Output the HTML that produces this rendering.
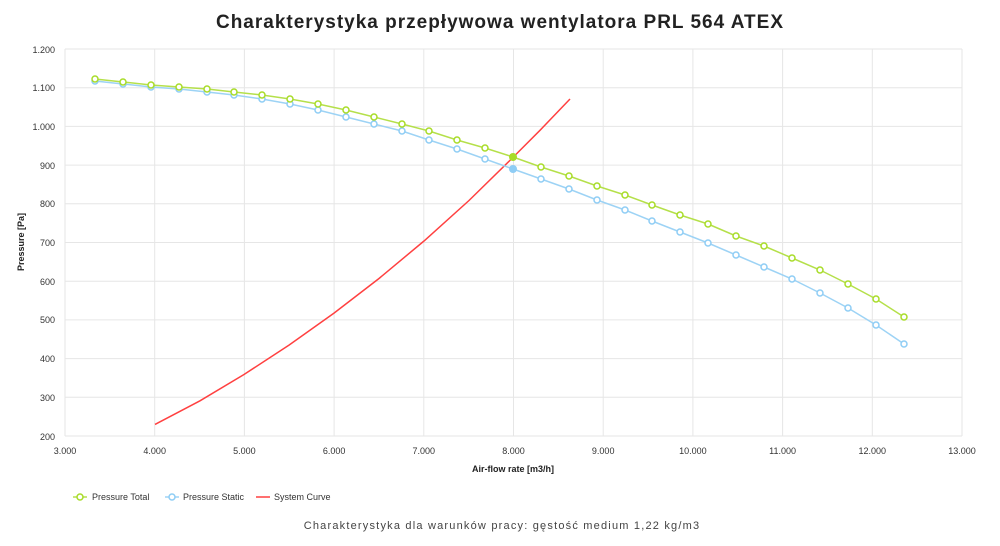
<!DOCTYPE html>
<html><head><meta charset="utf-8"><style>
body{margin:0;background:#fff;width:1000px;height:541px;overflow:hidden;font-family:"Liberation Sans",sans-serif}
</style></head><body>
<svg width="1000" height="541" xmlns="http://www.w3.org/2000/svg" font-family="Liberation Sans, sans-serif">
<text x="500" y="28" text-anchor="middle" font-size="19" font-weight="bold" letter-spacing="1" fill="#222">Charakterystyka przepływowa wentylatora PRL 564 ATEX</text>
<g stroke="#e6e6e6" stroke-width="1">
<line x1="65" y1="49" x2="962" y2="49"/><line x1="65" y1="87.7" x2="962" y2="87.7"/><line x1="65" y1="126.4" x2="962" y2="126.4"/><line x1="65" y1="165.1" x2="962" y2="165.1"/><line x1="65" y1="203.8" x2="962" y2="203.8"/><line x1="65" y1="242.5" x2="962" y2="242.5"/><line x1="65" y1="281.2" x2="962" y2="281.2"/><line x1="65" y1="319.9" x2="962" y2="319.9"/><line x1="65" y1="358.6" x2="962" y2="358.6"/><line x1="65" y1="397.3" x2="962" y2="397.3"/><line x1="65" y1="436" x2="962" y2="436"/>
<line x1="65" y1="49" x2="65" y2="436"/><line x1="154.7" y1="49" x2="154.7" y2="436"/><line x1="244.4" y1="49" x2="244.4" y2="436"/><line x1="334.1" y1="49" x2="334.1" y2="436"/><line x1="423.8" y1="49" x2="423.8" y2="436"/><line x1="513.5" y1="49" x2="513.5" y2="436"/><line x1="603.2" y1="49" x2="603.2" y2="436"/><line x1="692.9" y1="49" x2="692.9" y2="436"/><line x1="782.6" y1="49" x2="782.6" y2="436"/><line x1="872.3" y1="49" x2="872.3" y2="436"/><line x1="962" y1="49" x2="962" y2="436"/>
</g>
<g font-size="9" fill="#333" text-anchor="end">
<text x="55" y="53">1.200</text><text x="55" y="91">1.100</text><text x="55" y="130">1.000</text><text x="55" y="169">900</text><text x="55" y="207">800</text><text x="55" y="246">700</text><text x="55" y="285">600</text><text x="55" y="323">500</text><text x="55" y="362">400</text><text x="55" y="401">300</text><text x="55" y="440">200</text>
</g>
<g font-size="9" fill="#333" text-anchor="middle">
<text x="65" y="454">3.000</text><text x="154.7" y="454">4.000</text><text x="244.4" y="454">5.000</text><text x="334.1" y="454">6.000</text><text x="423.8" y="454">7.000</text><text x="513.5" y="454">8.000</text><text x="603.2" y="454">9.000</text><text x="692.9" y="454">10.000</text><text x="782.6" y="454">11.000</text><text x="872.3" y="454">12.000</text><text x="962" y="454">13.000</text>
</g>
<text x="513" y="472" text-anchor="middle" font-size="9" font-weight="bold" fill="#222">Air-flow rate [m3/h]</text>
<text transform="translate(24,242) rotate(-90)" text-anchor="middle" font-size="9" font-weight="bold" fill="#222">Pressure [Pa]</text>
<polyline fill="none" stroke="#ff4040" stroke-width="1.5" points="155,424.4 200,400.8 244,374.5 289,345.1 334,313.1 379,278.5 424,241 469,200.5 513,157.4 540,130.3 570,99"/>
<g fill="none" stroke="#9dd3f5" stroke-width="1.5">
<polyline points="95,81 123,84 151,87 179,89 207,92 234,95 262,99 290,104 318,110 346,117 374,124 402,131 429,140 457,149 485,159 513,169 541,179 569,189 597,200 625,210 652,221 680,232 708,243 736,255 764,267 792,279 820,293 848,308 876,325 904,344"/>
</g>
<g fill="#fff" stroke="#8fcdf5" stroke-width="1.5" id="s">
<circle cx="95" cy="81" r="3"/><circle cx="123" cy="84" r="3"/><circle cx="151" cy="87" r="3"/><circle cx="179" cy="89" r="3"/><circle cx="207" cy="92" r="3"/><circle cx="234" cy="95" r="3"/><circle cx="262" cy="99" r="3"/><circle cx="290" cy="104" r="3"/><circle cx="318" cy="110" r="3"/><circle cx="346" cy="117" r="3"/><circle cx="374" cy="124" r="3"/><circle cx="402" cy="131" r="3"/><circle cx="429" cy="140" r="3"/><circle cx="457" cy="149" r="3"/><circle cx="485" cy="159" r="3"/><circle cx="541" cy="179" r="3"/><circle cx="569" cy="189" r="3"/><circle cx="597" cy="200" r="3"/><circle cx="625" cy="210" r="3"/><circle cx="652" cy="221" r="3"/><circle cx="680" cy="232" r="3"/><circle cx="708" cy="243" r="3"/><circle cx="736" cy="255" r="3"/><circle cx="764" cy="267" r="3"/><circle cx="792" cy="279" r="3"/><circle cx="820" cy="293" r="3"/><circle cx="848" cy="308" r="3"/><circle cx="876" cy="325" r="3"/><circle cx="904" cy="344" r="3"/>
</g>
<circle cx="513" cy="169" r="4" fill="#8fcdf5"/>
<polyline fill="none" stroke="#b5e04a" stroke-width="1.5" points="95,79 123,82 151,85 179,87 207,89 234,92 262,95 290,99 318,104 346,110 374,117 402,124 429,131 457,140 485,148 513,157 541,167 569,176 597,186 625,195 652,205 680,215 708,224 736,236 764,246 792,258 820,270 848,284 876,299 904,317"/>
<g fill="#fff" stroke="#a8dc28" stroke-width="1.5">
<circle cx="95" cy="79" r="3"/><circle cx="123" cy="82" r="3"/><circle cx="151" cy="85" r="3"/><circle cx="179" cy="87" r="3"/><circle cx="207" cy="89" r="3"/><circle cx="234" cy="92" r="3"/><circle cx="262" cy="95" r="3"/><circle cx="290" cy="99" r="3"/><circle cx="318" cy="104" r="3"/><circle cx="346" cy="110" r="3"/><circle cx="374" cy="117" r="3"/><circle cx="402" cy="124" r="3"/><circle cx="429" cy="131" r="3"/><circle cx="457" cy="140" r="3"/><circle cx="485" cy="148" r="3"/><circle cx="541" cy="167" r="3"/><circle cx="569" cy="176" r="3"/><circle cx="597" cy="186" r="3"/><circle cx="625" cy="195" r="3"/><circle cx="652" cy="205" r="3"/><circle cx="680" cy="215" r="3"/><circle cx="708" cy="224" r="3"/><circle cx="736" cy="236" r="3"/><circle cx="764" cy="246" r="3"/><circle cx="792" cy="258" r="3"/><circle cx="820" cy="270" r="3"/><circle cx="848" cy="284" r="3"/><circle cx="876" cy="299" r="3"/><circle cx="904" cy="317" r="3"/>
</g>
<circle cx="513" cy="157" r="4" fill="#a8dc28"/>
<g font-size="9" fill="#333">
<line x1="73" y1="497" x2="87" y2="497" stroke="#b5e04a" stroke-width="1.5"/><circle cx="80" cy="497" r="3" fill="#fff" stroke="#a8dc28" stroke-width="1.5"/>
<text x="92" y="500">Pressure Total</text>
<line x1="165" y1="497" x2="179" y2="497" stroke="#9dd3f5" stroke-width="1.5"/><circle cx="172" cy="497" r="3" fill="#fff" stroke="#8fcdf5" stroke-width="1.5"/>
<text x="183" y="500">Pressure Static</text>
<line x1="256" y1="497" x2="270" y2="497" stroke="#ff4040" stroke-width="1.5"/>
<text x="274" y="500">System Curve</text>
</g>
<text x="502" y="529" text-anchor="middle" font-size="11" letter-spacing="1.2" fill="#444">Charakterystyka dla warunków pracy: gęstość medium 1,22 kg/m3</text>
</svg>
</body></html>
